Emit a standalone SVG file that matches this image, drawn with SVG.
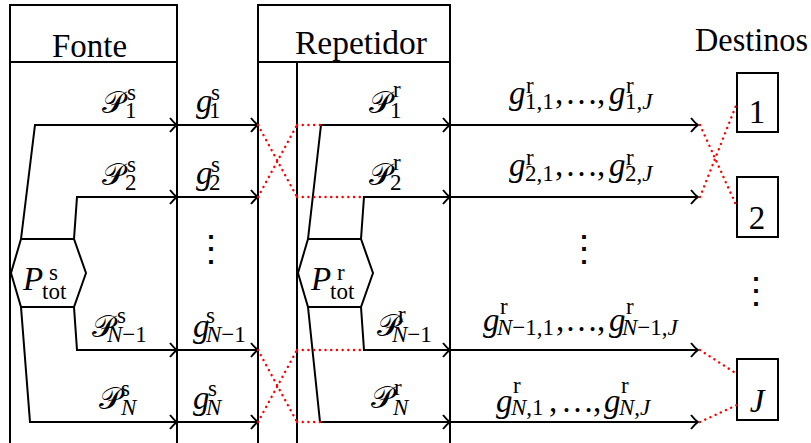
<svg xmlns="http://www.w3.org/2000/svg" width="811" height="443" viewBox="0 0 811 443">
<style>
.ln{fill:none;stroke:#000;stroke-width:2}
.rd{fill:none;stroke:#f00;stroke-width:2.4;stroke-linecap:round;stroke-dasharray:0.1 5.6}
text{font-family:"Liberation Serif","DejaVu Serif",serif;fill:#000}
.t{font-size:33px}
.cal{font-family:"DejaVu Serif","Liberation Serif",serif;font-size:31px}
.i{font-size:33px;font-style:italic}
.s{font-size:23px}
.si{font-style:italic}
.vd{font-family:"DejaVu Serif",serif;font-size:36px;text-anchor:middle}
</style>
<defs>
<marker id="arr" viewBox="-8 -8 10 16" markerWidth="10" markerHeight="16" refX="0" refY="0" orient="auto" markerUnits="userSpaceOnUse" overflow="visible">
<path d="M-7,-7 Q-3,-2 0,0 Q-3,2 -7,7" fill="none" stroke="#000" stroke-width="2"/>
</marker>
</defs>
<rect width="811" height="443" fill="#fff"/>

<g id="fonte">
<path class="ln" d="M10,443 V5 H177 V443 M10,62 H177"/>
<text class="t" x="52" y="57" textLength="75" lengthAdjust="spacingAndGlyphs">Fonte</text>
</g>

<g id="repetidor">
<path class="ln" d="M258,443 V5 H450 V443 M258,62 H450 M297,62 V443"/>
<text class="t" x="295" y="54" textLength="132" lengthAdjust="spacingAndGlyphs">Repetidor</text>
</g>

<g id="destinos">
<text class="t" x="695" y="51" textLength="113" lengthAdjust="spacingAndGlyphs">Destinos</text>
</g>

<g id="ptot-s">
<polygon class="ln" points="21,239 74,239 86,273 74,307 21,307 11,273"/>
<text><tspan class="i" x="23" y="290">P</tspan><tspan class="s" x="49" y="280">s</tspan><tspan class="s" x="42" y="299" font-size="25">tot</tspan></text>
</g>

<g id="ptot-r">
<polygon class="ln" points="308,239 361,239 373,273 361,307 308,307 298,273"/>
<text><tspan class="i" x="311" y="290">P</tspan><tspan class="s" x="337" y="280">r</tspan><tspan class="s" x="330" y="299" font-size="25">tot</tspan></text>
</g>

<g id="dest-1">
<rect class="ln" x="737" y="73" width="41" height="59"/>
<text class="t" x="757" y="123" text-anchor="middle">1</text>
</g>
<g id="dest-2">
<rect class="ln" x="737" y="177" width="41" height="60"/>
<text class="t" x="757" y="229" text-anchor="middle">2</text>
</g>
<g id="dest-J">
<rect class="ln" x="737" y="359" width="41" height="61"/>
<text class="i" x="757" y="412" text-anchor="middle">J</text>
</g>

<g id="connectors">
<path class="ln" marker-end="url(#arr)" d="M21,239 L35,125 H177"/>
<path class="ln" marker-end="url(#arr)" d="M74,239 L77,197 H177"/>
<path class="ln" marker-end="url(#arr)" d="M74,307 L77,350 H177"/>
<path class="ln" marker-end="url(#arr)" d="M21,307 L30,422 H177"/>
<path class="ln" marker-end="url(#arr)" d="M177,125 H258"/>
<path class="ln" marker-end="url(#arr)" d="M177,197 H258"/>
<path class="ln" marker-end="url(#arr)" d="M177,350 H258"/>
<path class="ln" marker-end="url(#arr)" d="M177,422 H258"/>
<path class="ln" marker-end="url(#arr)" d="M308,239 L321,125 H450"/>
<path class="ln" marker-end="url(#arr)" d="M361,239 L364,197 H450"/>
<path class="ln" marker-end="url(#arr)" d="M361,307 L364,350 H450"/>
<path class="ln" marker-end="url(#arr)" d="M308,307 L320,422 H450"/>
<path class="ln" marker-end="url(#arr)" d="M450,125 H698"/>
<path class="ln" marker-end="url(#arr)" d="M450,197 H698"/>
<path class="ln" marker-end="url(#arr)" d="M450,350 H698"/>
<path class="ln" marker-end="url(#arr)" d="M450,422 H698"/>
<path class="rd" d="M258,125 L297,197 M258,197 L297,125 M297,125 H321 M297,197 H364"/>
<path class="rd" d="M258,350 L297,422 M258,422 L297,350 M297,350 H364 M297,422 H320"/>
<path class="rd" d="M700,125 L737,207 M700,197 L737,103 M700,350 L737,374 M700,422 L737,405"/>
</g>

<g id="labels">
<!-- source powers -->
<text><tspan class="cal" x="102" y="113">𝒫</tspan><tspan class="s" x="127" y="100">s</tspan><tspan class="s" x="125" y="118">1</tspan></text>
<text><tspan class="cal" x="102" y="185">𝒫</tspan><tspan class="s" x="127" y="172">s</tspan><tspan class="s" x="125" y="190">2</tspan></text>
<text><tspan class="cal" x="92" y="337">𝒫</tspan><tspan class="s" x="117" y="323">s</tspan><tspan class="s" x="107" y="342"><tspan class="si">N</tspan>−1</tspan></text>
<text><tspan class="cal" x="99" y="409">𝒫</tspan><tspan class="s" x="121" y="396">s</tspan><tspan class="s" x="121" y="415" font-style="italic">N</tspan></text>
<!-- source gains -->
<text><tspan class="i" x="196" y="112">g</tspan><tspan class="s" x="211" y="100">s</tspan><tspan class="s" x="209" y="118">1</tspan></text>
<text><tspan class="i" x="196" y="184">g</tspan><tspan class="s" x="211" y="172">s</tspan><tspan class="s" x="209" y="190">2</tspan></text>
<text><tspan class="i" x="193" y="337">g</tspan><tspan class="s" x="206" y="323">s</tspan><tspan class="s" x="206" y="342"><tspan class="si">N</tspan>−1</tspan></text>
<text><tspan class="i" x="193" y="409">g</tspan><tspan class="s" x="208" y="396">s</tspan><tspan class="s" x="206" y="415" font-style="italic">N</tspan></text>
<!-- repeater powers -->
<text><tspan class="cal" x="369" y="113">𝒫</tspan><tspan class="s" x="393" y="97">r</tspan><tspan class="s" x="390" y="118">1</tspan></text>
<text><tspan class="cal" x="369" y="185">𝒫</tspan><tspan class="s" x="393" y="170">r</tspan><tspan class="s" x="390" y="190">2</tspan></text>
<text><tspan class="cal" x="377" y="336">𝒫</tspan><tspan class="s" x="398" y="322">r</tspan><tspan class="s" x="392" y="342"><tspan class="si">N</tspan>−1</tspan></text>
<text><tspan class="cal" x="371" y="408">𝒫</tspan><tspan class="s" x="394" y="395">r</tspan><tspan class="s" x="393" y="415" font-style="italic">N</tspan></text>
<!-- repeater gains -->
<text><tspan class="i" x="509" y="104">g</tspan><tspan class="s" x="526" y="93">r</tspan><tspan class="s" x="525" y="109">1,1</tspan><tspan class="t" x="555" y="104">,</tspan><tspan class="t" x="565" y="104">…</tspan><tspan class="t" x="597" y="104">,</tspan><tspan class="i" x="609" y="104">g</tspan><tspan class="s" x="626" y="93">r</tspan><tspan class="s" x="625" y="109">1,<tspan class="si">J</tspan></tspan></text>
<text><tspan class="i" x="509" y="176">g</tspan><tspan class="s" x="526" y="165">r</tspan><tspan class="s" x="525" y="181">2,1</tspan><tspan class="t" x="555" y="176">,</tspan><tspan class="t" x="565" y="176">…</tspan><tspan class="t" x="597" y="176">,</tspan><tspan class="i" x="609" y="176">g</tspan><tspan class="s" x="626" y="165">r</tspan><tspan class="s" x="625" y="181">2,<tspan class="si">J</tspan></tspan></text>
<text><tspan class="i" x="483" y="331">g</tspan><tspan class="s" x="500" y="314">r</tspan><tspan class="s" x="497" y="335"><tspan class="si">N</tspan>−1,1</tspan><tspan class="t" x="556" y="331">,</tspan><tspan class="t" x="565" y="331">…</tspan><tspan class="t" x="597" y="331">,</tspan><tspan class="i" x="609" y="331">g</tspan><tspan class="s" x="626" y="314">r</tspan><tspan class="s" x="622" y="335"><tspan class="si">N</tspan>−1,<tspan class="si">J</tspan></tspan></text>
<text><tspan class="i" x="496" y="412">g</tspan><tspan class="s" x="513" y="393">r</tspan><tspan class="s" x="511" y="415"><tspan class="si">N</tspan>,1</tspan><tspan class="t" x="549" y="412">,</tspan><tspan class="t" x="561" y="412">…</tspan><tspan class="t" x="593" y="412">,</tspan><tspan class="i" x="604" y="412">g</tspan><tspan class="s" x="621" y="393">r</tspan><tspan class="s" x="619" y="415"><tspan class="si">N</tspan>,<tspan class="si">J</tspan></tspan></text>
<!-- vertical ellipses -->
<text class="vd" x="211" y="261">⋮</text>
<text class="vd" x="584" y="261">⋮</text>
<text class="vd" x="756" y="303">⋮</text>
</g>
</svg>
